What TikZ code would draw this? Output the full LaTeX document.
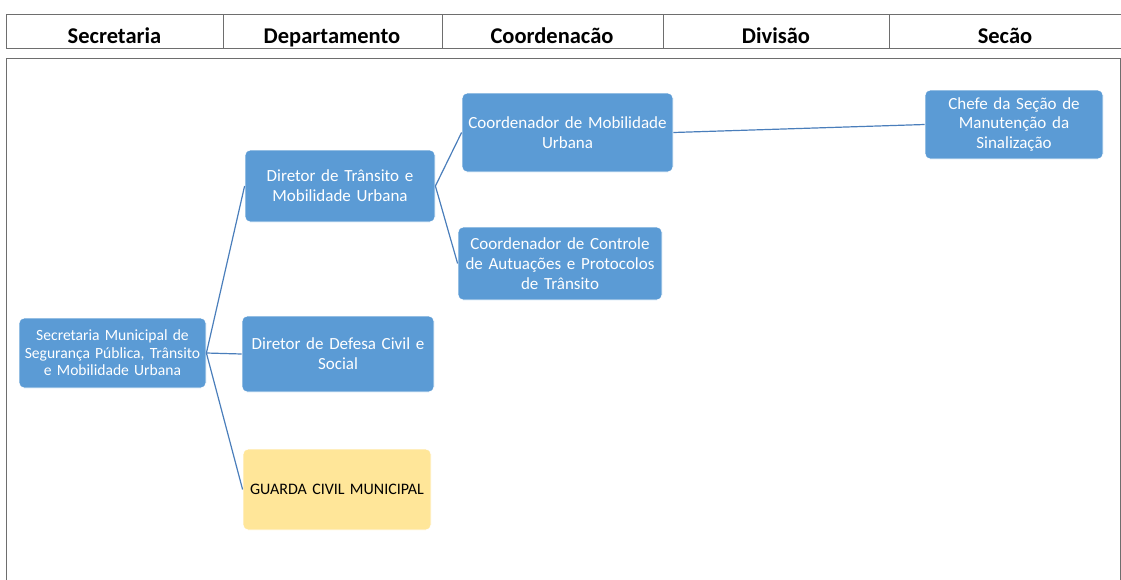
\documentclass[tikz,border=0pt]{standalone}
\usepackage{fontspec}
\setmainfont{Carlito}
\definecolor{boxblue}{HTML}{5B9BD5}
\definecolor{boxyellow}{HTML}{FFE699}
\definecolor{linkblue}{HTML}{4A7EBB}
\definecolor{framegray}{HTML}{6E6E6E}
\begin{document}
\begin{tikzpicture}[x=1pt,y=-1pt,
  orgbox/.style={draw=white, line width=0.8pt, fill=boxblue, rounded corners=5pt, text=white, align=center, inner sep=2pt},
  bigtxt/.style={font=\fontsize{17}{19.8}\selectfont},
  smalltxt/.style={font=\fontsize{15.6}{17.5}\selectfont},
  guardtxt/.style={font=\fontsize{16}{19}\selectfont},
  link/.style={draw=linkblue, line width=1.2pt},
  head/.style={font=\fontsize{22.5}{26}\selectfont\bfseries, anchor=base}
]
\useasboundingbox (0,0) rectangle (1121,579);
% header table
\draw[framegray, line width=1pt] (6,14) rectangle (1121,48);
\foreach \xx in {223,442,663,889} \draw[framegray, line width=1pt] (\xx,14) -- (\xx,48);
\begin{scope}
\clip (6,14) rectangle (1121,48);
\node[head] (h1) at (114.5,43) {Secretaria};
\node[head] (h2) at (332,43) {Departamento};
\node[head] (h3) at (552,43) {Coordenacão};
\node[head] (h4) at (776,43) {Divisão};
\node[head] (h5) at (1005,43) {Secão};
\end{scope}
% body frame
\draw[framegray, line width=1pt] (6,590) -- (6,58) -- (1120,58) -- (1120,590);
% nodes
\node[orgbox, smalltxt, minimum width=187pt, minimum height=70pt, text width=183pt] (sec) at (112.5,353) {Secretaria Municipal de\\Segurança Pública, Trânsito\\e Mobilidade Urbana};
\node[orgbox, bigtxt, minimum width=190pt, minimum height=72pt, text width=184pt] (dtr) at (340,186) {Diretor de Trânsito e\\Mobilidade Urbana};
\node[orgbox, bigtxt, minimum width=192pt, minimum height=76pt, text width=186pt] (ddc) at (338,354) {Diretor de Defesa Civil e\\Social};
\node[orgbox, guardtxt, fill=boxyellow, text=black, minimum width=188pt, minimum height=81pt, text width=184pt] (gcm) at (337,489.5) {GUARDA CIVIL MUNICIPAL};
\node[orgbox, bigtxt, minimum width=211pt, minimum height=79pt, text width=207pt] (cmu) at (567.5,132.5) {Coordenador de Mobilidade\\Urbana};
\node[orgbox, bigtxt, minimum width=204pt, minimum height=73pt, text width=200pt] (cca) at (560,263.5) {Coordenador de Controle\\de Autuações e Protocolos\\de Trânsito};
\node[orgbox, bigtxt, minimum width=178pt, minimum height=69pt, text width=174pt] (csm) at (1014,124.5) {Chefe da Seção de\\Manutenção da\\Sinalização};
% connectors
\draw[link] (sec.east) -- (dtr.west);
\draw[link] (sec.east) -- (ddc.west);
\draw[link] (sec.east) -- (gcm.west);
\draw[link] (dtr.east) -- (cmu.west);
\draw[link] (dtr.east) -- (cca.west);
\draw[link] (cmu.east) -- (csm.west);
\end{tikzpicture}
\end{document}
